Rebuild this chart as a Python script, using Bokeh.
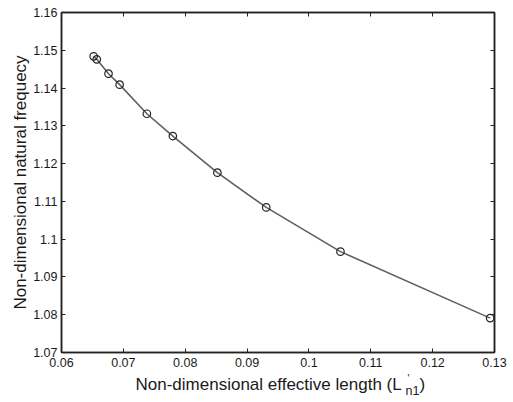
from bokeh.plotting import figure
from bokeh.layouts import column
from bokeh.models import FixedTicker, LinearAxis, Label, Range1d, CustomLabelingPolicy
from bokeh.embed import file_html
from bokeh.resources import INLINE

# Data
length = [0.0652, 0.0657, 0.0676, 0.0694, 0.0738, 0.0780, 0.0852, 0.0931, 0.1051, 0.1293]
frequency = [1.1484, 1.1476, 1.1438, 1.1409, 1.1332, 1.1273, 1.1176, 1.1084, 1.0967, 1.0791]

x_ticks = [0.06, 0.07, 0.08, 0.09, 0.10, 0.11, 0.12, 0.13]
x_tick_labels = ["0.06", "0.07", "0.08", "0.09", "0.1", "0.11", "0.12", "0.13"]
y_ticks = [1.07, 1.08, 1.09, 1.10, 1.11, 1.12, 1.13, 1.14, 1.15, 1.16]
y_tick_labels = ["1.07", "1.08", "1.09", "1.1", "1.11", "1.12", "1.13", "1.14", "1.15", "1.16"]

FONT = "Liberation Sans"
TXT = "#1a1a1a"
AX = "#222222"

p = figure(width=513, height=372, output_backend="svg", toolbar_location=None,
           x_range=Range1d(0.06, 0.13), y_range=Range1d(1.07, 1.16),
           min_border_left=61, min_border_right=19, min_border_top=12, min_border_bottom=20,
           x_axis_location="below", y_axis_location="left")
p.grid.visible = False
p.outline_line_color = AX
p.outline_line_width = 1.5
p.background_fill_color = "white"
p.border_fill_color = "white"

p.line(length, frequency, line_color="#5f5f5f", line_width=1.6)
p.scatter(length, frequency, marker="circle", size=7.5, fill_color=None,
          line_color=AX, line_width=1.2)

xa = p.xaxis[0]
xa.ticker = FixedTicker(ticks=x_ticks)
xa.major_label_overrides = dict(zip(x_ticks, x_tick_labels))
ya = p.yaxis[0]
ya.ticker = FixedTicker(ticks=y_ticks)
ya.major_label_overrides = dict(zip(y_ticks, y_tick_labels))

for ax in (xa, ya):
    ax.major_tick_in = 4
    ax.major_tick_out = 0
    ax.minor_tick_line_color = None
    ax.axis_line_color = AX
    ax.axis_line_width = 1.5
    ax.major_tick_line_color = AX
    ax.major_label_text_font = FONT
    ax.major_label_text_font_size = "12.5px"
    ax.major_label_text_color = TXT

xa.major_label_standoff = 5
ya.major_label_standoff = 4
ya.axis_label = "Non-dimensional natural frequecy"
ya.axis_label_text_font = FONT
ya.axis_label_text_font_size = "17px"
ya.axis_label_text_font_style = "normal"
ya.axis_label_text_color = TXT
ya.axis_label_standoff = 0

hide_all = CustomLabelingPolicy(code="""
for (const i of Array.from(indices)) { indices.unset(i) }
return indices
""")

# mirrored axes (ticks only) on top and right
for ticks, side in ((x_ticks, "above"), (y_ticks, "right")):
    ax = LinearAxis(ticker=FixedTicker(ticks=ticks), major_label_policy=hide_all,
                    major_label_standoff=0, major_tick_in=4, major_tick_out=0,
                    minor_tick_line_color=None, axis_line_color=AX, axis_line_width=1.5,
                    major_tick_line_color=AX, major_label_text_font_size="0px")
    p.add_layout(ax, side)

# strip below the plot holding the x-axis title with its primed subscript
t = figure(width=513, height=30, output_backend="svg", toolbar_location=None,
           x_range=Range1d(0, 1), y_range=Range1d(0, 1),
           min_border_left=61, min_border_right=19, min_border_top=0, min_border_bottom=0,
           x_axis_location=None, y_axis_location=None)
t.grid.visible = False
t.outline_line_color = None
t.background_fill_color = "white"
t.border_fill_color = "white"

# (text, x from frame left, y from strip bottom, size, baseline)
title_parts = [
    ("Non-dimensional effective length (L", 74, 18, "17px", "alphabetic"),
    ("n1", 344, 12, "12.5px", "alphabetic"),
    ("'", 346, 30, "10px", "top"),
    (")", 358, 18, "17px", "alphabetic"),
]
for txt, sx, sy, fs, bl in title_parts:
    t.add_layout(Label(x=sx, y=sy, x_units="screen", y_units="screen", text=txt,
                       text_font=FONT, text_font_size=fs, text_color=TXT,
                       text_baseline=bl, text_align="left"))

layout = column(p, t, spacing=0)
open("out.html", "w").write(file_html(layout, INLINE))
